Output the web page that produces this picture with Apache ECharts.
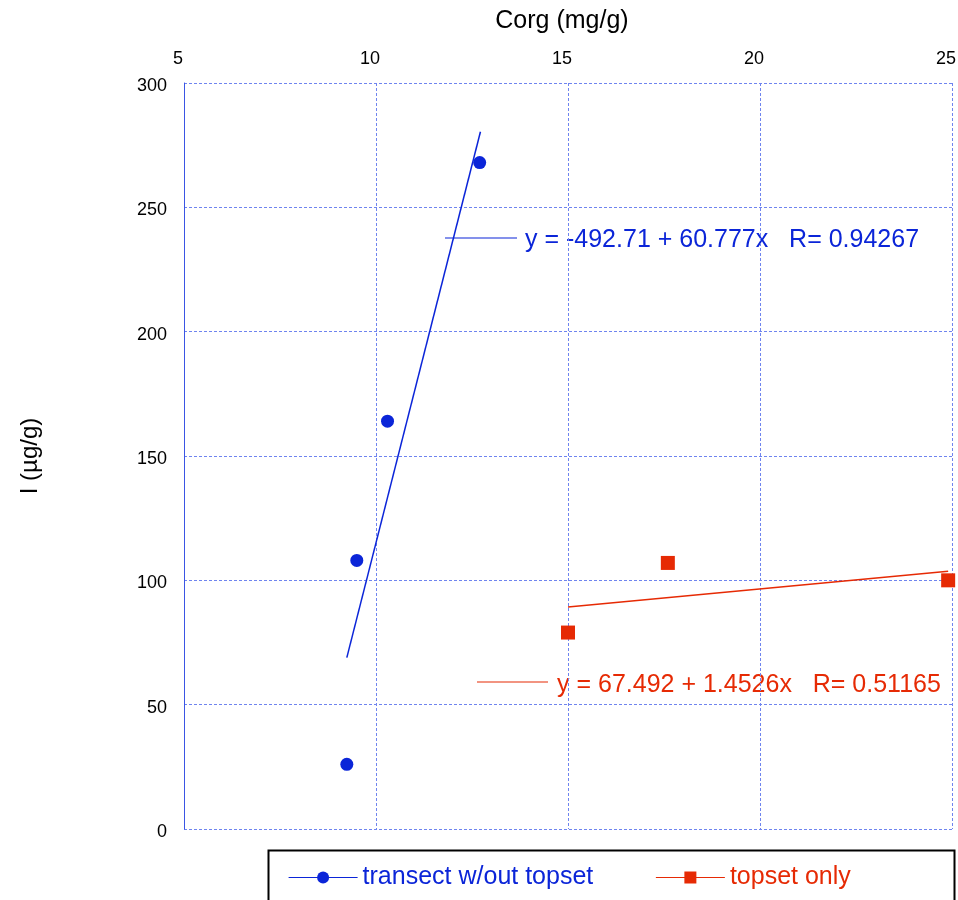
<!DOCTYPE html>
<html>
<head>
<meta charset="utf-8">
<script src="https://cdn.jsdelivr.net/npm/echarts@6/dist/echarts.min.js"></script>
<style>
html,body{margin:0;padding:0;background:#fff;}
#chart{width:958px;height:900px;}
</style>
</head>
<body>
<div id="chart"></div>
<script>
// ---- data ----
var transectX = [9.24, 9.5, 10.3, 12.7];
var transectY = [26, 108, 164, 268];
var topsetX = [15.0, 17.6, 24.9];
var topsetY = [79, 107, 100];
var transectFitX = [9.24, 12.72];
var transectFitY = [68.9, 280.4];
var topsetFitX = [15.0, 24.9];
var topsetFitY = [89.3, 103.7];
var xTicks = [5, 10, 15, 20, 25];
var yTicks = [0, 50, 100, 150, 200, 250, 300];
var seriesNames = ['transect w/out topset', 'topset only'];
var eqTransect = 'y = -492.71 + 60.777x   R= 0.94267';
var eqTopset = 'y = 67.492 + 1.4526x   R= 0.51165';

var BLUE = '#0b25d8';
var RED = '#e62a04';
var FONT = "'Liberation Sans', Arial, sans-serif";

function pairs(xs, ys){ return xs.map(function(x,i){ return [x, ys[i]]; }); }

var chart = echarts.init(document.getElementById('chart'), null, {renderer:'canvas'});
var gridColor = '#6f84ef';
chart.setOption({
  animation: false,
  backgroundColor: '#fff',
  grid: {left: 184, right: 6, top: 83, bottom: 71, outerBoundsMode: 'none', containLabel: false},
  xAxis: {
    type: 'value', position: 'top', min: xTicks[0], max: xTicks[xTicks.length-1], interval: 5,
    name: 'Corg (mg/g)', nameLocation: 'middle', nameGap: 49,
    nameTextStyle: {fontFamily: FONT, fontSize: 25, color: '#000', padding: [0, 12, 0, 0]},
    axisLine: {show: false}, axisTick: {show: false},
    axisLabel: {fontFamily: FONT, fontSize: 18, color: '#000', margin: 15, padding: [0, 12, 0, 0]},
    splitLine: {show: true, lineStyle: {type: [3, 2], width: 1, color: gridColor}}
  },
  yAxis: {
    type: 'value', min: yTicks[0], max: yTicks[yTicks.length-1], interval: 50,
    name: 'I (µg/g)', nameLocation: 'middle', nameGap: 142,
    nameTextStyle: {fontFamily: FONT, fontSize: 24, color: '#000'},
    axisLine: {show: true, lineStyle: {color: '#3a55e4', width: 1}}, axisTick: {show: false},
    axisLabel: {fontFamily: FONT, fontSize: 18, color: '#000', margin: 17, verticalAlign: 'top', padding: [-6, 0, 0, 0]},
    splitLine: {show: true, lineStyle: {type: [3, 2], width: 1, color: gridColor}}
  },
  legend: {
    left: 283, top: 860, itemWidth: 69, itemHeight: 15, itemGap: 62,
    textStyle: {fontFamily: FONT, fontSize: 25},
    lineStyle: {width: 1.2},
    data: [
      {name: seriesNames[0], textStyle: {color: BLUE}},
      {name: seriesNames[1], textStyle: {color: RED}}
    ]
  },
  series: [
    {
      name: seriesNames[0], type: 'line', data: pairs(transectX, transectY),
      symbol: 'circle', symbolSize: 13, showSymbol: true,
      itemStyle: {color: BLUE}, lineStyle: {width: 0, color: BLUE}, z: 5
    },
    {
      name: seriesNames[1], type: 'line', data: pairs(topsetX, topsetY),
      symbol: 'rect', symbolSize: 14, showSymbol: true,
      itemStyle: {color: RED}, lineStyle: {width: 0, color: RED}, z: 5
    },
    {
      name: 'transect fit', type: 'line', data: pairs(transectFitX, transectFitY),
      symbol: 'none', lineStyle: {width: 1.5, color: BLUE}, z: 4
    },
    {
      name: 'topset fit', type: 'line', data: pairs(topsetFitX, topsetFitY),
      symbol: 'none', lineStyle: {width: 1.5, color: RED}, z: 4
    }
  ],
  graphic: [
    {type: 'rect', left: 266, top: 848, shape: {width: 686, height: 51}, style: {fill: 'none', stroke: '#000', lineWidth: 2}, z: 1},
    {type: 'line', shape: {x1: 445, y1: 238, x2: 517, y2: 238}, style: {stroke: BLUE, lineWidth: 1.2}},
    {type: 'text', left: 525, top: 228, style: {text: eqTransect, fill: BLUE, font: '25px ' + FONT}},
    {type: 'line', shape: {x1: 477, y1: 682, x2: 548, y2: 682}, style: {stroke: RED, lineWidth: 1.2}},
    {type: 'text', left: 557, top: 673, style: {text: eqTopset, fill: RED, font: '25px ' + FONT}}
  ]
});
</script>
</body>
</html>
